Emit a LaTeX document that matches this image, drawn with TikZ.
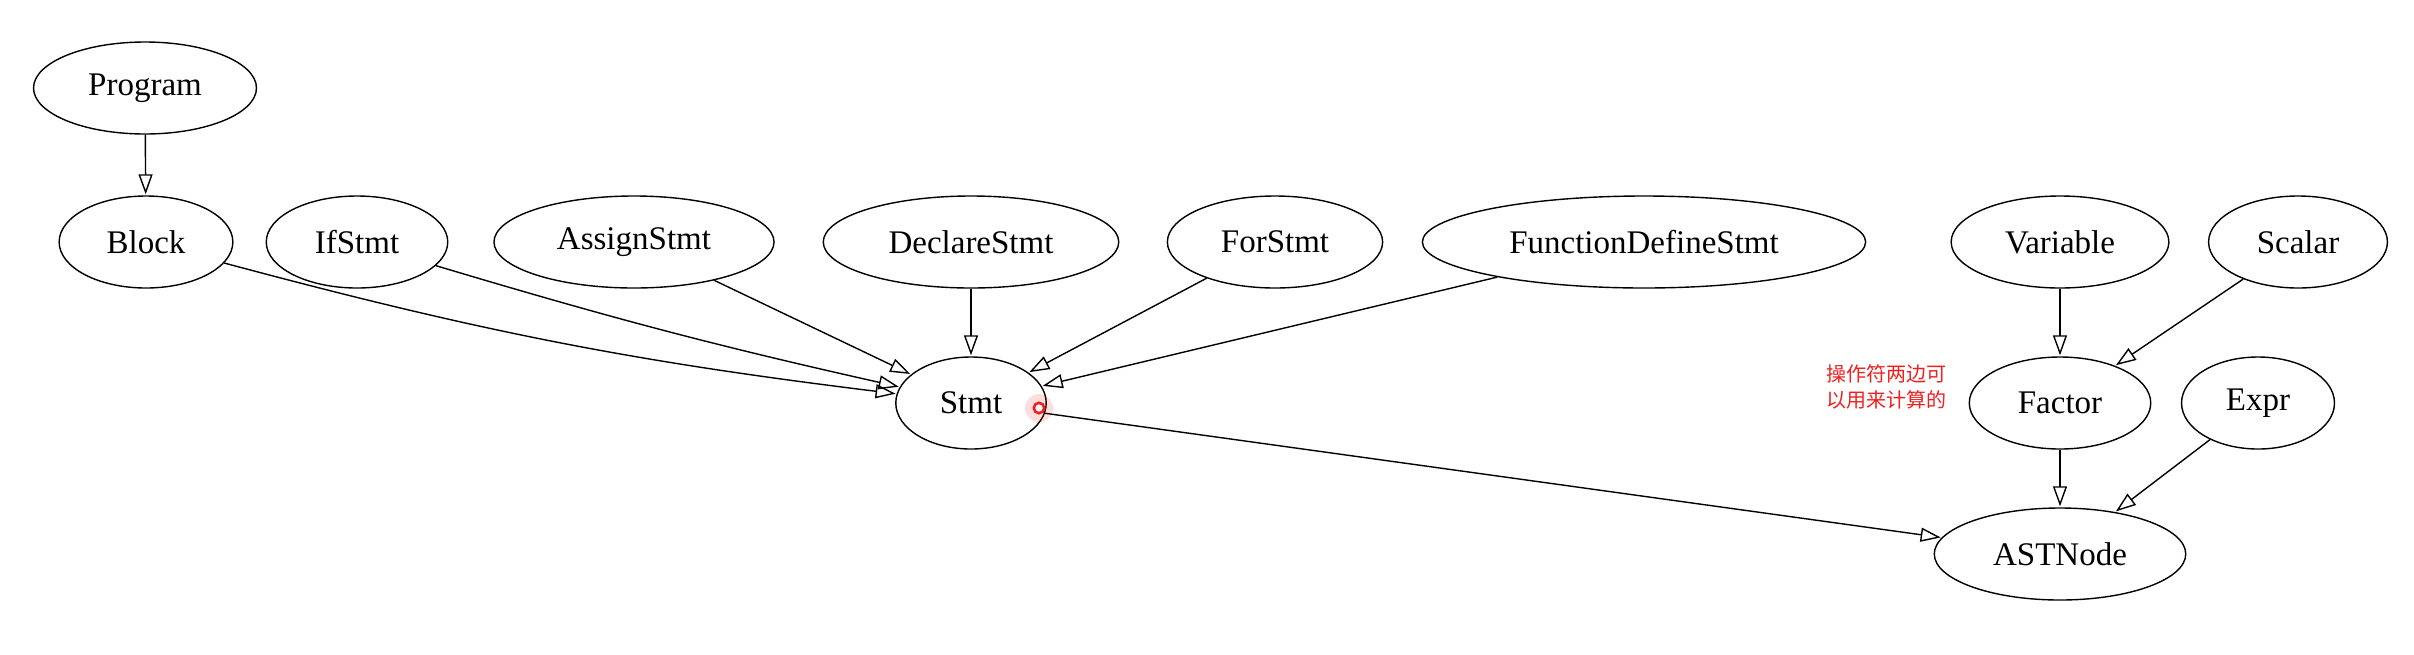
\documentclass[tikz,border=0pt]{standalone}
\usepackage{fontspec}
\setmainfont{Liberation Serif}
\newfontfamily\cjk{Noto Sans CJK SC}
\usetikzlibrary{shapes.geometric,arrows.meta}
\definecolor{notered}{RGB}{240,32,32}
\tikzset{
  cls/.style={ellipse, draw, line width=0.7pt, minimum height=46pt, inner xsep=11pt, font=\fontsize{16.5}{18}\selectfont},
  isa/.style={-{Triangle[open,length=10pt,width=7pt]}, line width=0.7pt, shorten >=0.5pt}
}
\begin{document}
\begin{tikzpicture}[x=0.5pt,y=-0.5pt]
\useasboundingbox (0,0) rectangle (2414,654);

%Ellipses: top row
\node [cls] (program) at (145,88) {Program};
\node [cls] (block) at (146,242) {Block};
\node [cls] (ifstmt) at (357,242) {IfStmt};
\node [cls] (assign) at (634,242) {AssignStmt};
\node [cls] (declare) at (971,242) {DeclareStmt};
\node [cls] (forstmt) at (1275,242) {ForStmt};
\node [cls] (funcdef) at (1644,242) {FunctionDefineStmt};
\node [cls] (variable) at (2060,242) {Variable};
\node [cls] (scalar) at (2298,242) {Scalar};
%Ellipses: lower rows
\node [cls] (stmt) at (971,403) {Stmt};
\node [cls] (factor) at (2060,403) {Factor};
\node [cls] (expr) at (2258,403) {Expr};
\node [cls] (astnode) at (2060,554) {ASTNode};

% Text Node
\node [align=center, text=notered, font=\cjk\fontsize{10}{13}\selectfont] (note) at (1886,387) {操作符两边可\\以用来计算的};

%Straight Lines
\draw [isa] (program) -- (block);
\draw [isa] (block) to [bend right=4] (stmt);
\draw [isa] (ifstmt) to [bend right=2] (stmt);
\draw [isa] (assign) -- (stmt);
\draw [isa] (declare) -- (stmt);
\draw [isa] (forstmt) -- (stmt);
\draw [isa] (funcdef) -- (stmt);
\draw [isa] (variable) -- (factor);
\draw [isa] (scalar) -- (factor);
\draw [isa] (stmt) -- (astnode);
\draw [isa] (factor) -- (astnode);
\draw [isa] (expr) -- (astnode);

%Shape: red marker
\fill [notered, opacity=0.15] (1039,408) circle (7pt);
\draw [notered, line width=1.3pt, fill=white] (1039,408) circle (2.6pt);

\end{tikzpicture}
\end{document}
